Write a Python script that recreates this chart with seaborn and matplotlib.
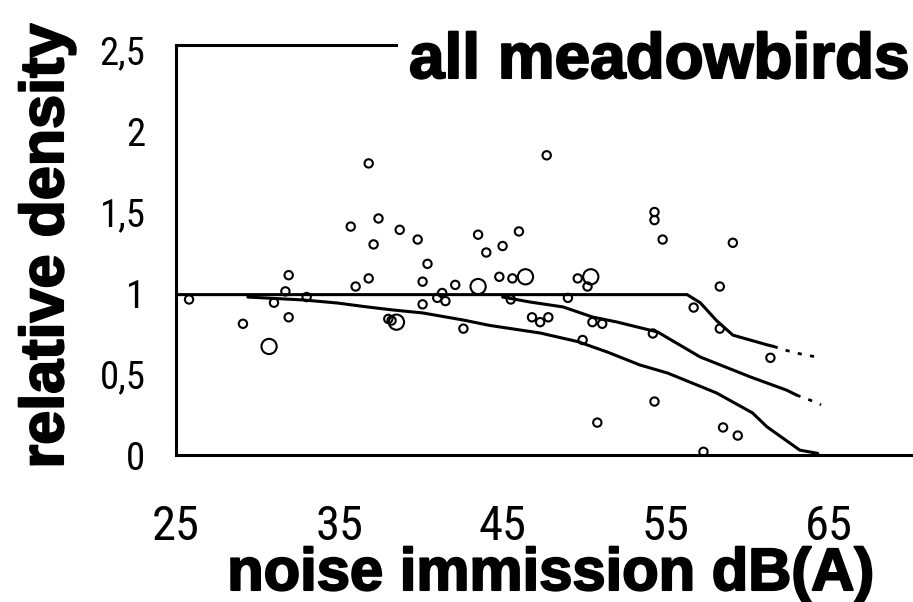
import matplotlib
matplotlib.use("Agg")
import matplotlib.pyplot as plt
import matplotlib.patheffects as pe
from matplotlib import font_manager
import pandas as pd
import seaborn as sns

# --- observed site densities (noise level in dB(A), relative density, marker class)
noise_db = [25.8, 29.1, 30.7, 31.0, 31.7, 31.9, 31.9, 33.0, 35.7, 36.0,
            36.8, 36.8, 37.1, 37.4, 38.0, 38.5, 38.2, 38.7, 39.8, 40.1,
            40.1, 40.4, 41.0, 41.3, 41.5, 42.1, 42.6, 43.5, 43.5, 44.0,
            44.8, 45.0, 45.5, 45.6, 46.0, 46.4, 46.8, 47.3, 47.7, 47.8,
            49.0, 49.6, 49.9, 50.2, 50.4, 50.5, 50.8, 51.1, 54.2, 54.3,
            54.3, 54.3, 54.8, 56.7, 57.3, 58.3, 58.3, 58.5, 59.1, 59.4,
            61.4]
rel_density = [0.96, 0.81, 0.67, 0.94, 1.01, 1.11, 0.85, 0.975, 1.41, 1.04,
               1.09, 1.80, 1.30, 1.46, 0.84, 0.82, 0.83, 1.39, 1.33, 1.07,
               0.93, 1.18, 0.97, 1.00, 0.95, 1.05, 0.78, 1.36, 1.04, 1.25,
               1.10, 1.29, 0.96, 1.09, 1.38, 1.10, 0.85, 0.82, 1.85, 0.85,
               0.97, 1.09, 0.71, 1.04, 1.10, 0.82, 0.20, 0.81, 0.75, 0.33,
               1.50, 1.45, 1.33, 0.91, 0.02, 1.04, 0.78, 0.17, 1.31, 0.12,
               0.60]
marker_class = ["s", "s", "L", "s", "s", "s", "s", "s", "s", "s",
                "s", "s", "s", "s", "s", "L", "s", "s", "s", "s",
                "s", "s", "s", "s", "s", "s", "s", "s", "L", "s",
                "s", "s", "s", "s", "s", "L", "s", "s", "s", "s",
                "s", "s", "s", "s", "L", "s", "s", "s", "s", "s",
                "s", "s", "s", "s", "s", "s", "s", "s", "s", "s",
                "s"]

# --- fitted curves
upper_x = [25.0, 56.3, 57.1, 58.1, 59.1, 61.2, 61.6]
upper_y = [0.99, 0.99, 0.94, 0.83, 0.74, 0.68, 0.67]
upper_ext_x = [61.6, 62.2, 63.4, 64.5]
upper_ext_y = [0.67, 0.65, 0.62, 0.60]

middle_x = [45.0, 46.7, 48.7, 50.5, 52.0, 54.5, 57.1, 60.2, 62.4, 63.0]
middle_y = [0.975, 0.944, 0.914, 0.852, 0.821, 0.759, 0.605, 0.481, 0.40, 0.37]
middle_ext_x = [63.0, 63.8, 64.5]
middle_ext_y = [0.37, 0.34, 0.31]

lower_x = [29.4, 32.8, 34.9, 36.7, 38.3, 40.1, 42.6, 44.2, 47.3, 49.6,
           51.4, 53.4, 55.1, 58.1, 60.3, 61.2, 63.2, 64.3]
lower_y = [0.975, 0.957, 0.938, 0.914, 0.895, 0.877, 0.833, 0.80, 0.753, 0.70,
           0.636, 0.556, 0.506, 0.383, 0.26, 0.173, 0.03, 0.01]

x_ticks = [25, 35, 45, 55, 65]
x_tick_labels = ["25", "35", "45", "55", "65"]
y_ticks = [0, 0.5, 1, 1.5, 2, 2.5]
y_tick_labels = ["0", "0,5", "1", "1,5", "2", "2,5"]

title_text = "all meadowbirds"
x_label = "noise immission dB(A)"
y_label = "relative density"

sns.set_theme(style="white")
plt.rcParams["font.family"] = ["Liberation Sans", "DejaVu Sans"]

# narrow face for the tick numbers when one is available
installed = {f.name for f in font_manager.fontManager.ttflist}
narrow = [f for f in ["Liberation Sans Narrow", "Roboto Condensed",
                      "DejaVu Sans Condensed"] if f in installed]
tick_family = narrow[:1] + ["Liberation Sans", "DejaVu Sans"]
xtick_size = 35 if narrow else 30
ytick_size = 28 if narrow else 26

W, H = 913, 602
fig = plt.figure(figsize=(W / 100, H / 100), dpi=100)
ax = fig.add_axes([176 / W, (H - 455) / H, (W - 176) / W, (455 - 45) / H])

points = pd.DataFrame({"noise": noise_db, "density": rel_density, "cls": marker_class})
sns.scatterplot(data=points, x="noise", y="density", size="cls",
                sizes={"s": 36, "L": 120}, size_order=["L", "s"],
                marker="o", facecolors="none", edgecolor="black",
                linewidth=1.5, legend=False, ax=ax, zorder=3)

line_kw = dict(color="black", linewidth=2.2, estimator=None, sort=False, ax=ax)
sns.lineplot(x=upper_x, y=upper_y, **line_kw)
sns.lineplot(x=middle_x, y=middle_y, **line_kw)
sns.lineplot(x=lower_x, y=lower_y, **line_kw)
dot_kw = dict(color="black", linewidth=2.0, estimator=None, sort=False, ax=ax)
for xs, ys in [(upper_ext_x, upper_ext_y), (middle_ext_x, middle_ext_y)]:
    sns.lineplot(x=xs, y=ys, **dot_kw)
    ax.lines[-1].set_linestyle((0, (1.5, 3)))

ax.set_xlim(25, 25 + (W - 176) / 16.33)
ax.set_ylim(0, 410 / 162)

ax.set_xticks(x_ticks)
ax.set_xticklabels(x_tick_labels, fontfamily=tick_family, fontsize=xtick_size)
ax.set_yticks(y_ticks)
ax.set_yticklabels(y_tick_labels, fontfamily=tick_family, fontsize=ytick_size)
ax.tick_params(axis="x", direction="in", length=7, width=1.5, pad=35, colors="black")
ax.tick_params(axis="y", direction="in", length=4, width=1.5, pad=22, colors="black")

for side in ["left", "bottom", "top"]:
    ax.spines[side].set_linewidth(2.2)
    ax.spines[side].set_color("black")
ax.spines["right"].set_visible(False)

heavy = [pe.withStroke(linewidth=1.5, foreground="black")]
ax.set_xlabel(x_label, fontsize=43, fontweight="bold", color="black", va="baseline",
              path_effects=heavy)
ax.xaxis.set_label_coords((551 - 176) / (W - 176), (455 - 590) / 410)
ax.set_ylabel(y_label, fontsize=44, fontweight="bold", color="black", va="baseline",
              path_effects=heavy)
ax.yaxis.set_label_coords((63 - 176) / (W - 176), (455 - 246) / 410)

ax.text((409 - 176) / (W - 176), (455 - 78) / 410, title_text, transform=ax.transAxes,
        fontsize=46, fontweight="bold", color="black", ha="left", va="baseline",
        path_effects=heavy, zorder=5,
        bbox=dict(facecolor="white", edgecolor="none", pad=8))

fig.savefig("out.png", dpi=100, facecolor="white")
